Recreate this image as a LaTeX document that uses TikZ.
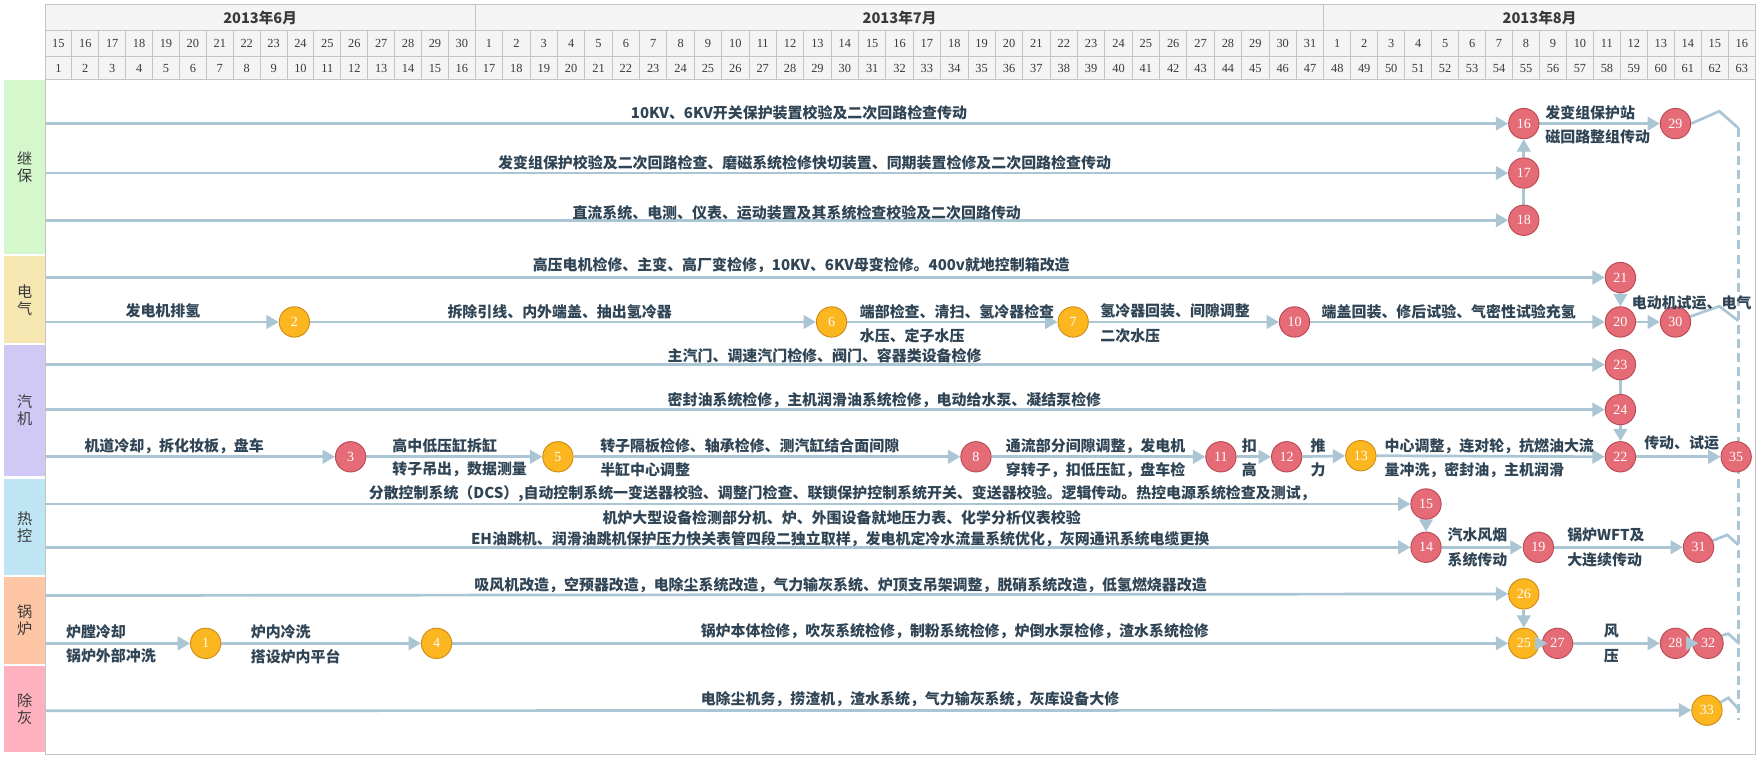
\documentclass[tikz,border=0pt]{standalone}
\usepackage{fontspec}
\newfontfamily\cjk{Noto Sans CJK SC}
\newfontfamily\numf{Liberation Serif}
\usetikzlibrary{arrows.meta,calc}
\pgfdeclarelayer{bg}
\pgfsetlayers{bg,main}
\definecolor{conn}{HTML}{AAC6D4}
\definecolor{gridc}{HTML}{C4C4C4}
\definecolor{hdrbg}{HTML}{F4F4F4}
\definecolor{txt}{HTML}{2F4454}
\definecolor{redf}{HTML}{E56B77}
\definecolor{redd}{HTML}{B94853}
\definecolor{orgf}{HTML}{FBB620}
\definecolor{orgd}{HTML}{CF8A12}
\definecolor{cA}{HTML}{D4F7CB}
\definecolor{cB}{HTML}{F6E6B1}
\definecolor{cC}{HTML}{D0C9F5}
\definecolor{cD}{HTML}{BFE4F3}
\definecolor{cE}{HTML}{FFC6A6}
\definecolor{cF}{HTML}{FFB1C0}
\definecolor{bandtxt}{HTML}{3A3A3A}
\tikzset{
 link/.style={draw=conn,line width=2.4pt},
 arr/.style={link,-{Triangle[length=11pt,width=12pt]}},
 dashlink/.style={draw=conn,line width=2.4pt,dash pattern=on 8pt off 4.5pt},
 evr/.style={circle,draw=redd,fill=redf,line width=0.8pt,minimum size=27pt,inner sep=0pt,text=white,font=\numf\fontsize{12.5}{12.5}\selectfont},
 evo/.style={evr,draw=orgd,fill=orgf},
 lbl/.style={inner sep=0pt,text=txt,font=\cjk\bfseries\fontsize{13.3}{14}\selectfont},
 lw/.style={lbl,anchor=west},
 band/.style={inner sep=0pt,text=bandtxt,align=center,font=\cjk\fontsize{13.5}{15.5}\selectfont},
 hcell/.style={draw=gridc,line width=0.8pt},
 hnum/.style={inner sep=0pt,text=bandtxt,font=\numf\fontsize{11}{11}\selectfont},
 hmon/.style={inner sep=0pt,text=bandtxt,font=\cjk\bfseries\fontsize{13}{13}\selectfont},
}
\begin{document}
\begin{tikzpicture}[x=1pt,y=-1pt]
\useasboundingbox (0,0) rectangle (1568,677);
\begin{pgfonlayer}{bg}
\fill[white] (0,0) rectangle (1568,677);
\end{pgfonlayer}
% ---------- header ----------
\fill[hdrbg] (40,4) rectangle (1562,71);
\draw[hcell] (40,4) rectangle (423,27.3);
\draw[hcell] (423,4) rectangle (1178,27.3);
\draw[hcell] (1178,4) rectangle (1562,27.3);
\node[hmon] (mJun) at (231.5,16) {2013年6月};
\node[hmon] (mJul) at (800.5,16) {2013年7月};
\node[hmon] (mAug) at (1370,16) {2013年8月};
\foreach \i in {0,...,15}{
 \pgfmathsetmacro\xa{40+\i*23.9375}
 \pgfmathsetmacro\xb{40+(\i+1)*23.9375}
 \pgfmathtruncatemacro\dd{15+\i}
 \pgfmathtruncatemacro\nn{1+\i}
 \draw[hcell] (\xa,27.3) rectangle (\xb,50.4) (\xa,50.4) rectangle (\xb,71);
 \node[hnum] (d\nn) at ({(\xa+\xb)/2},39) {\dd};
 \node[hnum] (c\nn) at ({(\xa+\xb)/2},61) {\nn};
}
\foreach \i in {0,...,30}{
 \pgfmathsetmacro\xa{423+\i*24.3548}
 \pgfmathsetmacro\xb{423+(\i+1)*24.3548}
 \pgfmathtruncatemacro\dd{1+\i}
 \pgfmathtruncatemacro\nn{17+\i}
 \draw[hcell] (\xa,27.3) rectangle (\xb,50.4) (\xa,50.4) rectangle (\xb,71);
 \node[hnum] (d\nn) at ({(\xa+\xb)/2},39) {\dd};
 \node[hnum] (c\nn) at ({(\xa+\xb)/2},61) {\nn};
}
\foreach \i in {0,...,15}{
 \pgfmathsetmacro\xa{1178+\i*24}
 \pgfmathsetmacro\xb{1178+(\i+1)*24}
 \pgfmathtruncatemacro\dd{1+\i}
 \pgfmathtruncatemacro\nn{48+\i}
 \draw[hcell] (\xa,27.3) rectangle (\xb,50.4) (\xa,50.4) rectangle (\xb,71);
 \node[hnum] (d\nn) at ({(\xa+\xb)/2},39) {\dd};
 \node[hnum] (c\nn) at ({(\xa+\xb)/2},61) {\nn};
}
% ---------- body frame & bands ----------
\draw[draw=gridc,line width=0.8pt] (40,71) rectangle (1562,671);
\fill[cA] (4,71.5) rectangle (40,226);   \node[band] (bA) at (22,149) {继\\保};
\fill[cB] (4,228) rectangle (40,305.5);  \node[band] (bB) at (22,267) {电\\气};
\fill[cC] (4,307) rectangle (40,423.5);  \node[band] (bC) at (22,365) {汽\\机};
\fill[cD] (4,426.5) rectangle (40,511.5);\node[band] (bD) at (22,469) {热\\控};
\fill[cE] (4,513.5) rectangle (40,591);  \node[band] (bE) at (22,552) {锅\\炉};
\fill[cF] (4,593) rectangle (40,669.5);  \node[band] (bF) at (22,631) {除\\灰};
% ---------- line starts ----------
\coordinate (s1) at (40,110);
\coordinate (s2) at (40,154);
\coordinate (s3) at (40,196);
\coordinate (s4) at (40,247);
\coordinate (s5) at (40,286.5);
\coordinate (s6) at (40,324.5);
\coordinate (s7) at (40,364.5);
\coordinate (s8) at (40,406.5);
\coordinate (s9) at (40,448.5);
\coordinate (s10) at (40,487);
\coordinate (s11) at (40,530);
\coordinate (s12) at (40,572.5);
\coordinate (s13) at (40,632.5);
\coordinate (dtop) at (1547,114);
\coordinate (dbot) at (1547,641);
% ---------- event nodes ----------
\node[evr] (n16) at (1356,110) {16};
\node[evr] (n29) at (1491,110) {29};
\node[evr] (n17) at (1356,154) {17};
\node[evr] (n18) at (1356,196) {18};
\node[evr] (n21) at (1442,247) {21};
\node[evr] (n20) at (1442,286.5) {20};
\node[evr] (n30) at (1491,286.5) {30};
\node[evo] (n2) at (262,286.5) {2};
\node[evo] (n6) at (740,286.5) {6};
\node[evo] (n7) at (955,286.5) {7};
\node[evr] (n10) at (1152,286.5) {10};
\node[evr] (n23) at (1442,324.5) {23};
\node[evr] (n24) at (1442,364.5) {24};
\node[evr] (n22) at (1442,406.5) {22};
\node[evr] (n35) at (1545,406.5) {35};
\node[evr] (n3) at (312,406.5) {3};
\node[evo] (n5) at (496.5,406.5) {5};
\node[evr] (n8) at (868.5,406.5) {8};
\node[evr] (n11) at (1086.5,406.5) {11};
\node[evr] (n12) at (1145,406.5) {12};
\node[evo] (n13) at (1211,405.5) {13};
\node[evr] (n15) at (1269,448.5) {15};
\node[evr] (n14) at (1269,487) {14};
\node[evr] (n19) at (1369,487) {19};
\node[evr] (n31) at (1511.5,487) {31};
\node[evo] (n26) at (1356,528.5) {26};
\node[evo] (n25) at (1356,572.5) {25};
\node[evr] (n27) at (1386,572.5) {27};
\node[evr] (n28) at (1491,572.5) {28};
\node[evr] (n32) at (1520,572.5) {32};
\node[evo] (n1) at (183,572.5) {1};
\node[evo] (n4) at (388.5,572.5) {4};
\node[evo] (n33) at (1519,632) {33};
% ---------- connectors ----------
\begin{pgfonlayer}{bg}
\draw[dashlink] (dtop) -- (dbot);
\draw[arr] (s1) -- (n16);
\draw[arr] (n16) -- (n29);
\draw[arr] (s2) -- (n17);
\draw[arr] (n17) -- (n16);
\draw[link] (n18) -- (n17);
\draw[arr] (s3) -- (n18);
\draw[arr] (s4) -- (n21);
\draw[arr] (n21) -- (n20);
\draw[arr] (s5) -- (n2);
\draw[arr] (n2) -- (n6);
\draw[arr] (n6) -- (n7);
\draw[arr] (n7) -- (n10);
\draw[arr] (n10) -- (n20);
\draw[arr] (n20) -- (n30);
\draw[arr] (s6) -- (n23);
\draw[link] (n23) -- (n24);
\draw[arr] (s7) -- (n24);
\draw[arr] (n24) -- (n22);
\draw[arr] (s8) -- (n3);
\draw[arr] (n3) -- (n5);
\draw[arr] (n5) -- (n8);
\draw[arr] (n8) -- (n11);
\draw[arr] (n11) -- (n12);
\draw[arr] (n12) -- (n13);
\draw[arr] (n13) -- (n22);
\draw[arr] (n22) -- (n35);
\draw[arr] (s9) -- (n15);
\draw[arr] (n15) -- (n14);
\draw[arr] (s10) -- (n14);
\draw[arr] (n14) -- (n19);
\draw[arr] (n19) -- (n31);
\draw[arr] (s11) -- (n26);
\draw[arr] (n26) -- (n25);
\draw[arr] (s12) -- (n1);
\draw[arr] (n1) -- (n4);
\draw[arr] (n4) -- (n25);
\draw[arr] (n27) -- (n28);
\draw[arr] (s13) -- (n33);
\draw[link] (n29.east) -- (1530,99) -- (dtop);
\draw[link] (n30.20) -- (1530,272.5) -- (1547,285.5);
\draw[link] (n31.25) -- (1537,476) -- (1547,485);
\draw[link] (n32.30) -- (1538,564) -- (1548,573);
\draw[link] (n33.30) -- (1538,621) -- (1548,632);
\end{pgfonlayer}
\draw[arr] ($(n25.center)+(10,0)$) -- ($(n27.center)+(-9,0)$);
\draw[arr] ($(n28.center)+(10,0)$) -- ($(n32.center)+(-8.5,0)$);
% ---------- labels ----------
\node[lbl] (t1) at (711,100) {10KV、6KV开关保护装置校验及二次回路检查传动};
\node[lbl] (t2) at (716,145) {发变组保护校验及二次回路检查、磨磁系统检修快切装置、同期装置检修及二次回路检查传动};
\node[lbl] (t3) at (709,189) {直流系统、电测、仪表、运动装置及其系统检查校验及二次回路传动};
\node[lw] (t16a) at (1375,100) {发变组保护站};
\node[lw] (t16b) at (1375,122) {磁回路整组传动};
\node[lbl] (t4) at (713,236) {高压电机检修、主变、高厂变检修，10KV、6KV母变检修。400v就地控制箱改造};
\node[lbl] (t5) at (145,277) {发电机排氢};
\node[lbl] (t2b) at (498,277) {拆除引线、内外端盖、抽出氢冷器};
\node[lw] (t6a) at (765,277) {端部检查、清扫、氢冷器检查};
\node[lw] (t6b) at (765,299) {水压、定子水压};
\node[lw] (t7a) at (979,277) {氢冷器回装、间隙调整};
\node[lw] (t7b) at (979,299) {二次水压};
\node[lw] (t10a) at (1176,277) {端盖回装、修后试验、气密性试验充氢};
\node[lw] (t20a) at (1452,270) {电动机试运、电气};
\node[lw] (t6) at (594,317) {主汽门、调速汽门检修、阀门、容器类设备检修};
\node[lw] (t7) at (594,356) {密封油系统检修，主机润滑油系统检修，电动给水泵、凝结泵检修};
\node[lw] (t8) at (75,397) {机道冷却，拆化妆板，盘车};
\node[lw] (t3a) at (349,397) {高中低压缸拆缸};
\node[lw] (t3b) at (349,418) {转子吊出，数据测量};
\node[lw] (t5a) at (534,397) {转子隔板检修、轴承检修、测汽缸结合面间隙};
\node[lw] (t5b) at (534,418) {半缸中心调整};
\node[lw] (t8a) at (895,397) {通流部分间隙调整，发电机};
\node[lw] (t8b) at (895,418) {穿转子，扣低压缸，盘车检};
\node[lw] (t11a) at (1105,397) {扣};
\node[lw] (t11b) at (1105,418) {高};
\node[lw] (t12a) at (1166,397) {推};
\node[lw] (t12b) at (1166,418) {力};
\node[lw] (t13a) at (1232,397) {中心调整，连对轮，抗燃油大流};
\node[lw] (t13b) at (1232,418) {量冲洗，密封油，主机润滑};
\node[lw] (t22a) at (1463,394) {传动、试运};
\node[lw] (t9) at (328,439) {分散控制系统（DCS）,自动控制系统一变送器校验、调整门检查、联锁保护控制系统开关、变送器校验。逻辑传动。热控电源系统检查及测试，};
\node[lw] (t10x) at (536,461) {机炉大型设备检测部分机、炉、外围设备就地压力表、化学分析仪表校验};
\node[lw] (t10) at (419,480) {EH油跳机、润滑油跳机保护压力快关表管四段二独立取样，发电机定冷水流量系统优化，灰网通讯系统电缆更换};
\node[lw] (t14a) at (1288,476) {汽水风烟};
\node[lw] (t14b) at (1288,498) {系统传动};
\node[lw] (t19a) at (1394.5,476) {锅炉WFT及};
\node[lw] (t19b) at (1394.5,498) {大连续传动};
\node[lw] (t11) at (422,521) {吸风机改造，空预器改造，电除尘系统改造，气力输灰系统、炉顶支吊架调整，脱硝系统改造，低氢燃烧器改造};
\node[lw] (t12x) at (58.6,562) {炉膛冷却};
\node[lw] (t12y) at (58.6,584) {锅炉外部冲洗};
\node[lw] (t1a) at (223,562) {炉内冷洗};
\node[lw] (t1b) at (223,584) {搭设炉内平台};
\node[lw] (t4a) at (623.4,562) {锅炉本体检修，吹灰系统检修，制粉系统检修，炉倒水泵检修，渣水系统检修};
\node[lbl] (t27a) at (1434,562) {风};
\node[lbl] (t27b) at (1434,584) {压};
\node[lw] (t13) at (623.4,622) {电除尘机务，捞渣机，渣水系统，气力输灰系统，灰库设备大修};
\end{tikzpicture}
\end{document}
